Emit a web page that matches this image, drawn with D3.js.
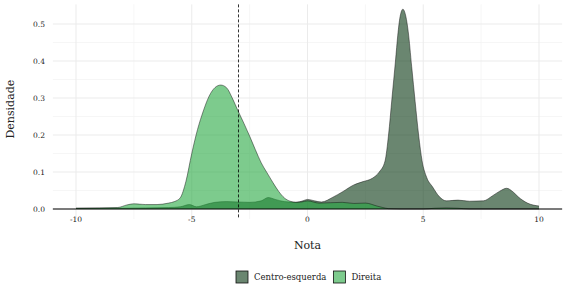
<!DOCTYPE html>
<html lang="pt">
<head>
<meta charset="UTF-8">
<title>Densidade por Nota</title>
<script src="https://d3js.org/d3.v7.min.js"></script>
<style>
  html, body { margin: 0; padding: 0; background: #fff; }
  svg text { font-family: "DejaVu Serif", serif; fill: #222; }
  .grid-major { stroke: #ebebeb; stroke-width: 1; }
  .grid-minor { stroke: #f4f4f4; stroke-width: 0.8; }
</style>
</head>
<body>
<svg id="chart" width="566" height="300"></svg>
<script>
// --- data ---
const series = ["Centro-esquerda", "Direita"];

const centroX = [-10, -9, -8, -7, -6, -5.5, -5.1, -4.8, -4.4, -4, -3.5, -3, -2.5, -2, -1.7, -1.4, -1, -0.5, -0.2, 0,
  0.3, 0.6, 1.1, 1.5, 2, 2.4, 2.8, 3.1, 3.35, 3.5, 3.65, 3.8, 3.9, 4.0, 4.12, 4.25, 4.35, 4.5, 4.65, 4.8, 4.95,
  5.15, 5.4, 5.7, 6.0, 6.5, 7.0, 7.6, 8.0, 8.3, 8.6, 8.9, 9.1, 9.5, 10];
const centroY = [0.002, 0.002, 0.002, 0.003, 0.004, 0.006, 0.012, 0.006, 0.012, 0.018, 0.02, 0.019, 0.018, 0.022, 0.031, 0.026, 0.02, 0.018, 0.022, 0.026,
  0.022, 0.019, 0.032, 0.046, 0.065, 0.074, 0.083, 0.1, 0.13, 0.2, 0.3, 0.4, 0.47, 0.52, 0.54, 0.52, 0.48, 0.385, 0.29, 0.2, 0.13,
  0.085, 0.06, 0.033, 0.022, 0.024, 0.021, 0.022, 0.036, 0.048, 0.056, 0.045, 0.033, 0.016, 0.008];

const direitaX = [-10, -9, -8.2, -7.8, -7.5, -7, -6.5, -6, -5.75, -5.5, -5.25, -5, -4.75, -4.5, -4.25, -4, -3.75, -3.5, -3.25, -3,
  -2.75, -2.5, -2.25, -2, -1.75, -1.5, -1.25, -1, -0.75, -0.5, -0.25, 0, 0.5, 1, 1.5, 2, 2.5, 3, 3.25, 3.5,
  4, 5, 5.5, 6, 6.5, 7, 8, 10];
const direitaY = [0.002, 0.003, 0.004, 0.011, 0.014, 0.012, 0.012, 0.016, 0.02, 0.03, 0.075, 0.15, 0.215, 0.265, 0.305, 0.328, 0.335, 0.328, 0.30, 0.265,
  0.232, 0.197, 0.16, 0.125, 0.098, 0.072, 0.048, 0.03, 0.021, 0.018, 0.019, 0.022, 0.016, 0.017, 0.018, 0.015, 0.016, 0.008, 0.004, 0.001,
  0, 0, 0.002, 0.003, 0.002, 0, 0, 0];

const xTicks = [-10, -5, 0, 5, 10];
const xMinor = [-7.5, -2.5, 2.5, 7.5];
const yTicks = [0, 0.1, 0.2, 0.3, 0.4, 0.5];
const yMinor = [0.05, 0.15, 0.25, 0.35, 0.45];
const cutoff = -3;

const fills = { "Centro-esquerda": "#073511", "Direita": "#26a841" };
const fillOpacity = 0.6;

// --- layout ---
const svg = d3.select("#chart");
const x = d3.scaleLinear().domain([-10, 10]).range([76, 539]);
const y = d3.scaleLinear().domain([0, 0.5]).range([209, 24]);
const panel = { left: x(-11), right: x(11), top: y(0.553), bottom: y(-0.027) };

// grid
const g = svg.append("g");
g.selectAll(".ymin").data(yMinor).join("line").attr("class", "grid-minor")
  .attr("x1", panel.left).attr("x2", panel.right).attr("y1", d => y(d)).attr("y2", d => y(d));
g.selectAll(".xmin").data(xMinor).join("line").attr("class", "grid-minor")
  .attr("y1", panel.top).attr("y2", panel.bottom).attr("x1", d => x(d)).attr("x2", d => x(d));
g.selectAll(".ymaj").data(yTicks).join("line").attr("class", "grid-major")
  .attr("x1", panel.left).attr("x2", panel.right).attr("y1", d => y(d)).attr("y2", d => y(d));
g.selectAll(".xmaj").data(xTicks).join("line").attr("class", "grid-major")
  .attr("y1", panel.top).attr("y2", panel.bottom).attr("x1", d => x(d)).attr("x2", d => x(d));

// densities
const area = d3.area().curve(d3.curveMonotoneX)
  .x(d => x(d[0])).y0(y(0)).y1(d => y(d[1]));
const line = d3.line().curve(d3.curveMonotoneX)
  .x(d => x(d[0])).y(d => y(d[1]));

const data = {
  "Centro-esquerda": d3.zip(centroX, centroY),
  "Direita": d3.zip(direitaX, direitaY)
};

series.forEach(s => {
  svg.append("path").datum(data[s]).attr("d", area)
    .attr("fill", fills[s]).attr("fill-opacity", fillOpacity);
  svg.append("path").datum(data[s]).attr("d", line)
    .attr("fill", "none").attr("stroke", "#111").attr("stroke-opacity", 0.8).attr("stroke-width", 0.6);
});

// zero line and cutoff
svg.append("line").attr("x1", panel.left).attr("x2", panel.right)
  .attr("y1", y(0)).attr("y2", y(0)).attr("stroke", "#000").attr("stroke-width", 1);
svg.append("line").attr("x1", Math.round(x(cutoff)) + 0.5).attr("x2", Math.round(x(cutoff)) + 0.5)
  .attr("y1", panel.top).attr("y2", panel.bottom)
  .attr("stroke", "#000").attr("stroke-width", 0.8).attr("stroke-dasharray", "3,2");

// axes labels
svg.selectAll(".ytick").data(yTicks).join("text")
  .attr("x", 45).attr("y", d => y(d)).attr("dy", "0.35em").attr("text-anchor", "end")
  .attr("font-size", 7.5).text(d => d.toFixed(1));
svg.selectAll(".xtick").data(xTicks).join("text")
  .attr("x", d => x(d)).attr("y", 222).attr("text-anchor", "middle")
  .attr("font-size", 7.5).text(d => d);

svg.append("text").attr("x", x(0)).attr("y", 249).attr("text-anchor", "middle")
  .attr("font-size", 11).text("Nota");
svg.append("text").attr("transform", `translate(14,${y(0.27)}) rotate(-90)`)
  .attr("text-anchor", "middle").attr("font-size", 11).text("Densidade");

// legend
const legend = svg.append("g");
let lx = 236;
series.forEach(s => {
  legend.append("rect").attr("x", lx).attr("y", 271).attr("width", 12).attr("height", 12)
    .attr("fill", fills[s]).attr("fill-opacity", fillOpacity).attr("stroke", "#111").attr("stroke-width", 0.8);
  const t = legend.append("text").attr("x", lx + 18).attr("y", 277).attr("dy", "0.35em")
    .attr("font-size", 8.5).text(s);
  lx += 18 + t.node().getComputedTextLength() + 7;
});
</script>
</body>
</html>
